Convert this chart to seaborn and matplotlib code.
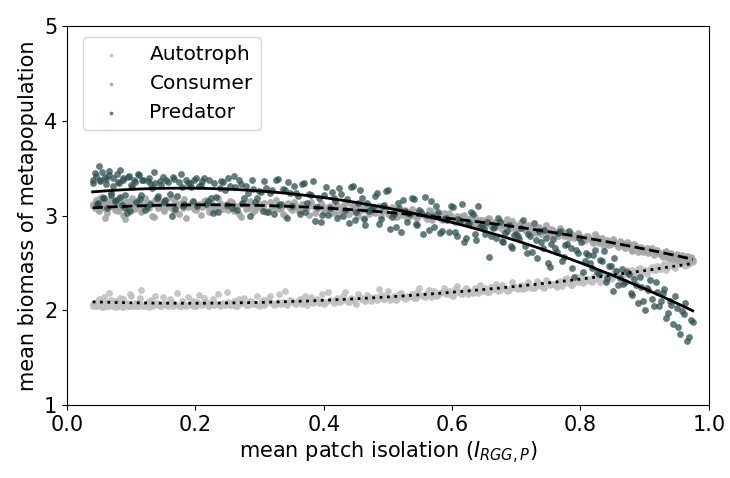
import matplotlib
matplotlib.use("Agg")
import matplotlib.pyplot as plt
import seaborn as sns
import pandas as pd

# mean patch isolation (shared by the three trophic levels)
isolation = [
    0.040, 0.043, 0.047, 0.050, 0.052, 0.056, 0.059, 0.061, 0.065, 0.068,
    0.071, 0.074, 0.078, 0.081, 0.083, 0.087, 0.090, 0.093, 0.097, 0.100,
    0.104, 0.108, 0.112, 0.115, 0.119, 0.124, 0.128, 0.131, 0.135, 0.140,
    0.145, 0.149, 0.153, 0.158, 0.163, 0.167, 0.172, 0.177, 0.181, 0.186,
    0.191, 0.196, 0.201, 0.206, 0.211, 0.216, 0.222, 0.227, 0.232, 0.238,
    0.243, 0.249, 0.254, 0.260, 0.265, 0.271, 0.276, 0.282, 0.288, 0.293,
    0.299, 0.305, 0.310, 0.316, 0.322, 0.328, 0.334, 0.339, 0.345, 0.351,
    0.357, 0.363, 0.369, 0.374, 0.380, 0.386, 0.392, 0.398, 0.404, 0.410,
    0.416, 0.421, 0.427, 0.433, 0.439, 0.445, 0.451, 0.457, 0.462, 0.468,
    0.474, 0.480, 0.486, 0.492, 0.497, 0.503, 0.509, 0.515, 0.521, 0.526,
    0.532, 0.538, 0.544, 0.549, 0.555, 0.561, 0.567, 0.572, 0.578, 0.584,
    0.590, 0.595, 0.601, 0.607, 0.612, 0.618, 0.624, 0.629, 0.635, 0.641,
    0.646, 0.652, 0.658, 0.663, 0.669, 0.674, 0.680, 0.686, 0.691, 0.697,
    0.702, 0.708, 0.713, 0.719, 0.724, 0.730, 0.735, 0.741, 0.746, 0.752,
    0.757, 0.763, 0.768, 0.774, 0.779, 0.785, 0.790, 0.796, 0.801, 0.807,
    0.812, 0.818, 0.823, 0.829, 0.834, 0.840, 0.845, 0.851, 0.856, 0.862,
    0.867, 0.873, 0.878, 0.884, 0.889, 0.895, 0.900, 0.906, 0.911, 0.917,
    0.922, 0.928, 0.933, 0.939, 0.944, 0.950, 0.955, 0.961, 0.966, 0.975,
    0.041, 0.045, 0.048, 0.051, 0.054, 0.057, 0.060, 0.063, 0.066, 0.069,
    0.072, 0.076, 0.079, 0.082, 0.085, 0.088, 0.091, 0.095, 0.098, 0.102,
    0.106, 0.110, 0.113, 0.117, 0.121, 0.126, 0.129, 0.133, 0.137, 0.142,
    0.147, 0.151, 0.155, 0.160, 0.165, 0.169, 0.174, 0.179, 0.183, 0.188,
    0.193, 0.198, 0.203, 0.208, 0.213, 0.219, 0.224, 0.229, 0.235, 0.240,
    0.246, 0.251, 0.257, 0.262, 0.268, 0.273, 0.279, 0.285, 0.290, 0.296,
    0.302, 0.307, 0.313, 0.319, 0.325, 0.331, 0.336, 0.342, 0.348, 0.354,
    0.360, 0.366, 0.371, 0.377, 0.383, 0.389, 0.395, 0.401, 0.407, 0.413,
    0.418, 0.424, 0.430, 0.436, 0.442, 0.448, 0.454, 0.459, 0.465, 0.471,
    0.477, 0.483, 0.489, 0.494, 0.500, 0.506, 0.512, 0.518, 0.523, 0.529,
    0.535, 0.541, 0.546, 0.552, 0.558, 0.564, 0.569, 0.575, 0.581, 0.587,
    0.592, 0.598, 0.604, 0.609, 0.615, 0.621, 0.626, 0.632, 0.638, 0.643,
    0.649, 0.655, 0.660, 0.666, 0.671, 0.677, 0.683, 0.688, 0.694, 0.699,
    0.705, 0.710, 0.716, 0.721, 0.727, 0.732, 0.738, 0.743, 0.749, 0.754,
    0.760, 0.765, 0.771, 0.776, 0.782, 0.787, 0.793, 0.798, 0.804, 0.809,
    0.815, 0.820, 0.826, 0.831, 0.837, 0.842, 0.848, 0.853, 0.859, 0.864,
    0.870, 0.875, 0.881, 0.886, 0.892, 0.897, 0.903, 0.908, 0.914, 0.919,
    0.925, 0.930, 0.936, 0.941, 0.947, 0.952, 0.958, 0.963, 0.969, 0.972,
]

autotroph = [
    2.05, 2.08, 2.04, 2.12, 2.06, 2.03, 2.09, 2.05, 2.18, 2.07,
    2.04, 2.10, 2.06, 2.05, 2.13, 2.03, 2.07, 2.08, 2.05, 2.15,
    2.06, 2.04, 2.09, 2.21, 2.05, 2.07, 2.03, 2.11, 2.06, 2.08,
    2.05, 2.14, 2.07, 2.04, 2.09, 2.06, 2.18, 2.05, 2.08, 2.04,
    2.07, 2.10, 2.05, 2.16, 2.06, 2.09, 2.04, 2.12, 2.07, 2.05,
    2.08, 2.19, 2.06, 2.10, 2.05, 2.08, 2.13, 2.06, 2.09, 2.07,
    2.05, 2.11, 2.08, 2.15, 2.06, 2.09, 2.07, 2.20, 2.08, 2.10,
    2.07, 2.12, 2.09, 2.06, 2.14, 2.10, 2.08, 2.17, 2.09, 2.11,
    2.08, 2.13, 2.10, 2.19, 2.09, 2.12, 2.07, 2.14, 2.11, 2.16,
    2.10, 2.14, 2.22, 2.12, 2.16, 2.11, 2.15, 2.13, 2.18, 2.12,
    2.14, 2.17, 2.13, 2.24, 2.15, 2.18, 2.14, 2.20, 2.16, 2.19,
    2.17, 2.20, 2.15, 2.26, 2.18, 2.21, 2.17, 2.19, 2.23, 2.18,
    2.20, 2.24, 2.19, 2.22, 2.28, 2.21, 2.25, 2.20, 2.23, 2.26,
    2.22, 2.27, 2.24, 2.30, 2.23, 2.26, 2.29, 2.25, 2.32, 2.27,
    2.28, 2.25, 2.31, 2.29, 2.34, 2.27, 2.32, 2.30, 2.36, 2.31,
    2.33, 2.30, 2.36, 2.34, 2.39, 2.32, 2.37, 2.35, 2.41, 2.36,
    2.38, 2.42, 2.36, 2.40, 2.44, 2.39, 2.43, 2.41, 2.46, 2.42,
    2.45, 2.48, 2.43, 2.50, 2.47, 2.52, 2.49, 2.54, 2.48, 2.51,
    2.07, 2.04, 2.10, 2.06, 2.03, 2.14, 2.05, 2.08, 2.04, 2.11,
    2.06, 2.03, 2.09, 2.07, 2.04, 2.12, 2.06, 2.05, 2.17, 2.04,
    2.08, 2.05, 2.13, 2.06, 2.04, 2.09, 2.07, 2.05, 2.15, 2.06,
    2.04, 2.08, 2.06, 2.12, 2.05, 2.07, 2.04, 2.10, 2.06, 2.14,
    2.06, 2.05, 2.09, 2.07, 2.13, 2.05, 2.08, 2.06, 2.17, 2.07,
    2.06, 2.09, 2.07, 2.05, 2.12, 2.08, 2.06, 2.10, 2.07, 2.15,
    2.09, 2.06, 2.12, 2.08, 2.07, 2.17, 2.09, 2.06, 2.11, 2.08,
    2.10, 2.07, 2.15, 2.09, 2.08, 2.12, 2.10, 2.07, 2.19, 2.10,
    2.11, 2.09, 2.15, 2.10, 2.13, 2.09, 2.17, 2.12, 2.10, 2.14,
    2.13, 2.11, 2.16, 2.12, 2.20, 2.13, 2.11, 2.17, 2.14, 2.15,
    2.15, 2.13, 2.19, 2.16, 2.14, 2.21, 2.17, 2.15, 2.18, 2.23,
    2.18, 2.16, 2.22, 2.19, 2.17, 2.24, 2.20, 2.18, 2.21, 2.27,
    2.21, 2.19, 2.25, 2.22, 2.20, 2.27, 2.23, 2.21, 2.30, 2.24,
    2.24, 2.22, 2.28, 2.25, 2.23, 2.31, 2.26, 2.24, 2.29, 2.28,
    2.27, 2.30, 2.26, 2.33, 2.29, 2.27, 2.35, 2.31, 2.29, 2.33,
    2.31, 2.35, 2.33, 2.30, 2.38, 2.35, 2.33, 2.40, 2.37, 2.35,
    2.40, 2.37, 2.43, 2.39, 2.45, 2.41, 2.38, 2.44, 2.42, 2.47,
    2.44, 2.49, 2.46, 2.51, 2.45, 2.50, 2.53, 2.47, 2.52, 2.55,
]

consumer = [
    3.12, 3.08, 3.15, 3.05, 3.18, 3.10, 2.97, 3.13, 3.09, 3.16,
    3.11, 3.06, 3.14, 3.19, 3.08, 3.12, 2.96, 3.10, 3.15, 3.07,
    3.13, 3.09, 3.17, 3.04, 3.11, 3.14, 3.08, 3.12, 2.98, 3.10,
    3.15, 3.07, 3.12, 3.09, 3.18, 3.05, 3.11, 3.13, 3.08, 2.97,
    3.10, 3.14, 3.06, 3.12, 3.09, 3.16, 3.04, 3.11, 3.08, 3.13,
    3.07, 3.12, 3.15, 3.05, 3.10, 2.98, 3.13, 3.08, 3.11, 3.06,
    3.12, 3.09, 3.04, 3.14, 3.07, 3.11, 3.08, 2.99, 3.13, 3.06,
    3.10, 3.05, 3.12, 3.08, 3.14, 3.03, 3.09, 3.11, 3.06, 3.10,
    3.04, 3.11, 3.07, 3.13, 3.02, 3.08, 3.10, 3.05, 2.97, 3.09,
    3.06, 3.03, 3.10, 3.05, 3.08, 3.01, 3.07, 2.99, 3.04, 3.06,
    3.02, 3.07, 2.98, 3.04, 3.01, 2.96, 3.05, 2.99, 3.02, 2.95,
    2.98, 3.03, 2.95, 2.99, 2.93, 3.01, 2.96, 2.91, 2.98, 2.94,
    2.95, 2.90, 2.97, 2.92, 2.88, 2.94, 2.90, 2.96, 2.87, 2.91,
    2.89, 2.93, 2.85, 2.90, 2.86, 2.82, 2.88, 2.84, 2.90, 2.81,
    2.85, 2.80, 2.87, 2.78, 2.83, 2.79, 2.76, 2.82, 2.77, 2.74,
    2.78, 2.74, 2.80, 2.71, 2.76, 2.72, 2.69, 2.75, 2.70, 2.73,
    2.68, 2.72, 2.65, 2.70, 2.62, 2.67, 2.64, 2.60, 2.66, 2.62,
    2.60, 2.56, 2.63, 2.58, 2.54, 2.59, 2.55, 2.52, 2.57, 2.53,
    3.10, 3.16, 3.06, 3.13, 3.20, 3.08, 3.14, 3.03, 3.11, 3.17,
    3.09, 3.13, 3.05, 3.16, 3.11, 3.01, 3.14, 3.08, 3.12, 3.18,
    3.07, 3.15, 3.11, 3.06, 3.19, 3.09, 3.13, 2.99, 3.16, 3.08,
    3.12, 3.05, 3.16, 3.10, 3.07, 3.14, 3.02, 3.12, 3.17, 3.09,
    3.13, 3.07, 3.11, 3.01, 3.15, 3.09, 3.13, 3.06, 3.18, 3.10,
    3.11, 3.06, 3.14, 3.09, 3.02, 3.12, 3.07, 3.15, 3.04, 3.10,
    3.08, 3.13, 3.05, 3.10, 3.16, 3.07, 3.02, 3.11, 3.08, 3.14,
    3.06, 3.12, 3.08, 3.01, 3.10, 3.07, 3.13, 3.04, 3.09, 3.03,
    3.08, 3.02, 3.10, 3.06, 3.12, 3.04, 3.00, 3.09, 3.06, 3.02,
    3.04, 3.08, 3.00, 3.06, 3.02, 3.09, 2.98, 3.05, 3.01, 2.97,
    3.00, 3.04, 2.97, 3.02, 2.99, 3.06, 2.95, 3.01, 2.97, 3.03,
    2.96, 3.00, 2.93, 2.97, 2.99, 2.92, 2.96, 2.94, 2.90, 2.95,
    2.92, 2.96, 2.89, 2.93, 2.91, 2.86, 2.92, 2.89, 2.94, 2.85,
    2.87, 2.91, 2.84, 2.88, 2.83, 2.87, 2.80, 2.85, 2.82, 2.86,
    2.82, 2.78, 2.84, 2.80, 2.76, 2.81, 2.77, 2.79, 2.73, 2.78,
    2.75, 2.71, 2.77, 2.73, 2.68, 2.74, 2.70, 2.72, 2.67, 2.71,
    2.66, 2.70, 2.63, 2.68, 2.65, 2.61, 2.66, 2.63, 2.58, 2.64,
    2.58, 2.62, 2.55, 2.60, 2.56, 2.53, 2.58, 2.54, 2.50, 2.56,
]

predator = [
    3.38, 3.45, 3.12, 3.52, 3.36, 3.18, 3.41, 3.33, 3.47, 3.22,
    3.31, 3.15, 3.44, 3.34, 3.20, 3.40, 3.08, 3.03, 3.42, 3.32,
    3.37, 3.14, 3.43, 3.22, 3.38, 3.09, 3.40, 3.33, 3.46, 3.18,
    3.36, 3.41, 3.16, 3.35, 3.00, 3.39, 3.21, 3.44, 3.10, 3.37,
    3.34, 3.15, 3.40, 3.31, 3.36, 3.12, 3.38, 3.03, 3.20, 3.29,
    3.35, 3.11, 3.31, 3.42, 3.06, 3.33, 3.19, 3.24, 3.37, 3.14,
    3.26, 3.05, 3.29, 3.24, 3.02, 3.39, 3.12, 3.27, 3.35, 3.10,
    3.24, 3.02, 3.34, 3.13, 3.22, 2.94, 3.19, 3.01, 3.30, 3.08,
    3.18, 2.97, 3.23, 3.06, 2.92, 3.31, 3.04, 3.27, 2.96, 3.13,
    3.07, 3.21, 2.91, 3.10, 3.26, 2.86, 3.02, 3.13, 2.83, 3.05,
    3.03, 3.18, 2.91, 3.06, 2.80, 3.01, 3.15, 2.88, 3.04, 2.84,
    2.97, 2.83, 3.09, 2.78, 2.94, 2.72, 2.91, 3.04, 2.80, 3.10,
    2.90, 2.81, 2.56, 2.87, 2.76, 2.93, 2.72, 2.84, 2.68, 2.79,
    2.78, 2.87, 2.68, 2.81, 2.62, 2.74, 2.84, 2.66, 2.76, 2.46,
    2.75, 2.62, 2.84, 2.56, 2.70, 2.66, 2.35, 2.60, 2.72, 2.52,
    2.58, 2.45, 2.64, 2.38, 2.52, 2.30, 2.47, 2.20, 2.41, 2.34,
    2.28, 2.40, 2.18, 2.33, 2.08, 2.25, 2.00, 2.21, 2.12, 2.30,
    2.05, 2.18, 1.92, 2.10, 1.85, 2.02, 1.75, 1.96, 1.68, 1.88,
    3.34, 3.42, 3.13, 3.37, 3.46, 3.19, 3.39, 3.08, 3.43, 3.24,
    3.40, 3.16, 3.35, 3.48, 3.11, 3.38, 3.22, 3.41, 3.05, 3.30,
    3.35, 3.44, 3.17, 3.38, 3.06, 3.36, 3.12, 3.29, 3.34, 3.21,
    3.32, 3.14, 3.38, 3.23, 3.41, 3.07, 3.35, 3.30, 3.12, 3.34,
    3.30, 3.37, 3.10, 3.32, 3.40, 3.15, 3.19, 3.34, 3.04, 3.36,
    3.27, 3.40, 3.08, 3.30, 3.38, 3.13, 3.31, 3.00, 3.28, 3.18,
    3.25, 3.36, 3.04, 3.27, 3.38, 3.11, 3.28, 2.97, 3.24, 3.31,
    3.21, 3.33, 3.04, 3.23, 3.36, 3.09, 2.93, 3.22, 3.01, 3.25,
    3.15, 3.29, 3.00, 3.17, 3.30, 2.95, 3.13, 3.19, 2.90, 3.05,
    3.09, 3.24, 2.96, 3.11, 3.27, 2.98, 2.88, 3.08, 3.16, 2.93,
    3.02, 3.17, 2.90, 3.04, 3.20, 2.85, 2.99, 3.10, 2.82, 2.96,
    2.95, 3.10, 2.83, 2.96, 3.12, 2.76, 2.92, 3.02, 2.74, 2.88,
    2.86, 2.93, 2.78, 2.88, 2.97, 2.73, 2.82, 2.90, 2.66, 2.81,
    2.75, 2.95, 2.60, 2.78, 2.92, 2.55, 2.72, 2.85, 2.50, 2.70,
    2.66, 2.82, 2.52, 2.69, 2.84, 2.45, 2.64, 2.76, 2.40, 2.60,
    2.50, 2.58, 2.40, 2.53, 2.63, 2.34, 2.47, 2.55, 2.27, 2.44,
    2.30, 2.38, 2.16, 2.27, 2.35, 2.10, 2.24, 2.32, 2.05, 2.19,
    2.10, 2.22, 1.97, 2.06, 2.15, 1.82, 1.99, 2.08, 1.72, 1.90,
]

species = ["Autotroph", "Consumer", "Predator"]
colors = {"Autotroph": "#c0c0c0", "Consumer": "#a4a4a4", "Predator": "#2f4f4f"}
alphas = {"Autotroph": 0.9, "Consumer": 0.9, "Predator": 0.75}
fit_styles = {"Autotroph": ":", "Consumer": "--", "Predator": "-"}

frames = []
for name, vals in zip(species, [autotroph, consumer, predator]):
    frames.append(pd.DataFrame({"isolation": isolation, "biomass": vals, "species": name}))
df = pd.concat(frames, ignore_index=True)

fig = plt.figure(figsize=(7.3, 4.78), dpi=100)
ax = fig.add_axes([0.0918, 0.1527, 0.8792, 0.7929])

for name in species:
    sub = df[df["species"] == name]
    sns.scatterplot(data=sub, x="isolation", y="biomass", ax=ax, color=colors[name],
                    alpha=alphas[name], s=24, linewidth=0, label=name, zorder=2)

for name in species:
    sub = df[df["species"] == name]
    sns.regplot(data=sub, x="isolation", y="biomass", ax=ax, order=2, ci=None,
                scatter=False, color="black",
                line_kws={"linestyle": fit_styles[name], "linewidth": 2.0, "zorder": 3})

ax.set_xlim(0.0, 1.0)
ax.set_ylim(1, 5)
ax.set_xticks([0.0, 0.2, 0.4, 0.6, 0.8, 1.0])
ax.set_yticks([1, 2, 3, 4, 5])
ax.tick_params(labelsize=15)
ax.set_xlabel(r"mean patch isolation ($I_{RGG,P}$)", fontsize=15)
ax.set_ylabel("mean biomass of metapopulation", fontsize=15)

leg = ax.legend(loc="upper left", bbox_to_anchor=(16 / 642, 1 - 11 / 379),
                borderaxespad=0, fontsize=14.5, markerscale=0.55, frameon=True,
                borderpad=0.4, handlelength=2.0, handletextpad=0.9, labelspacing=0.5)

fig.savefig("out.png", dpi=100)
